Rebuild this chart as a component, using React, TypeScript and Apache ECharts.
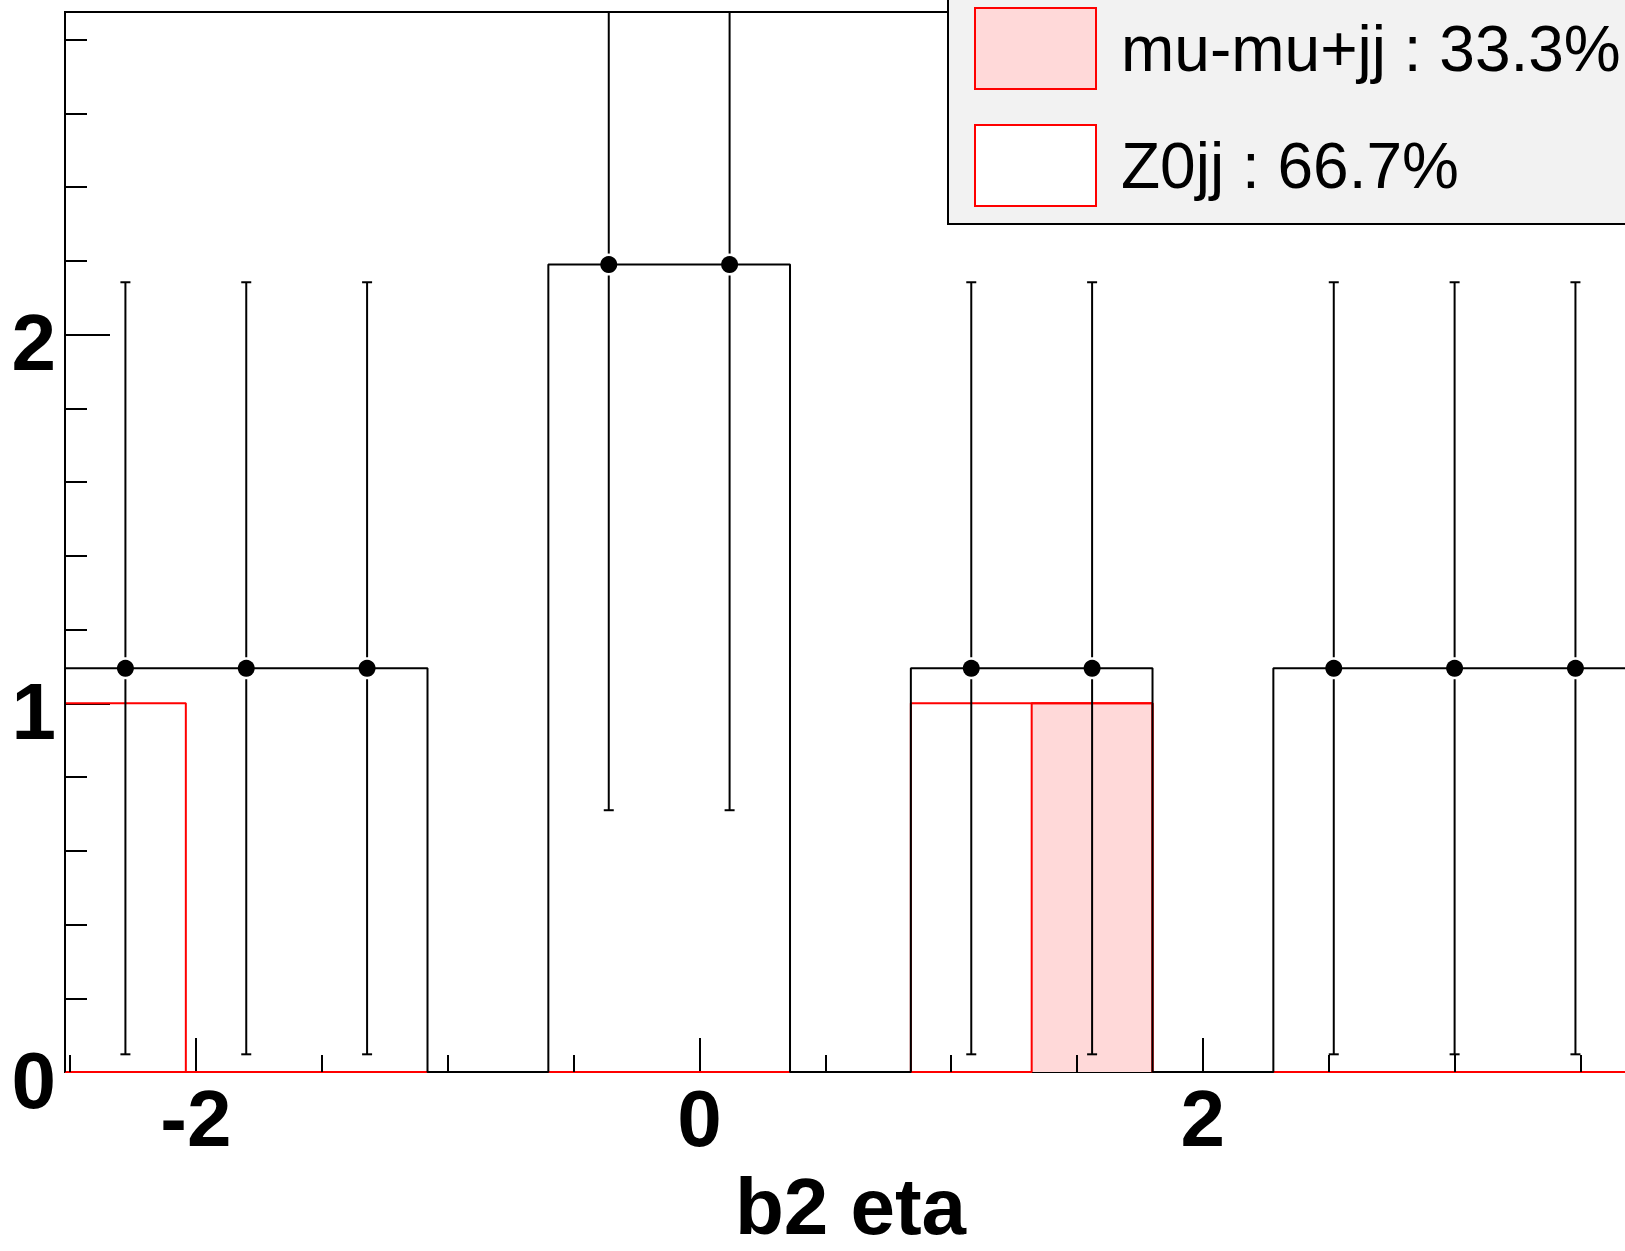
import React, { useEffect, useRef } from "react";
import * as echarts from "echarts";

// ---- data ----
const binEdges = [-2.52, -2.04, -1.56, -1.08, -0.6, -0.12, 0.36, 0.84, 1.32, 1.8, 2.28, 2.76, 3.24, 3.72];
const dataValues = [1.095, 1.095, 1.095, 0, 2.19, 2.19, 0, 1.095, 1.095, 0, 1.095, 1.095, 1.095];
const dataErrors = [1.047, 1.047, 1.047, 0, 1.48, 1.48, 0, 1.047, 1.047, 0, 1.047, 1.047, 1.047];
const z0jjValues = [1, 0, 0, 0, 0, 0, 0, 1, 0, 0, 0, 0, 0];
const mumujjValues = [0, 0, 0, 0, 0, 0, 0, 0, 1, 0, 0, 0, 0];
const seriesNames = ["mu-mu+jj : 33.3%", "Z0jj : 66.7%"];
const xMajorTicks = [-2, 0, 2];
const xMinorTicks = [-2.5, -1.5, -1, -0.5, 0.5, 1, 1.5, 2.5, 3, 3.5];
const yMajorTicks = [0, 1, 2];
const yMinorTicks = [0.2, 0.4, 0.6, 0.8, 1.2, 1.4, 1.6, 1.8, 2.2, 2.4, 2.6, 2.8];
const xTitle = "b2 eta";
const xMin = -2.52;
const xMax = 3.8;
const yMin = 0;
const yMax = 2.875;

const FONT = "'Liberation Sans', Arial, Helvetica, sans-serif";
const PINK = "#ffd9d9";

function stepOutline(values: number[]): number[][] {
  const pts: number[][] = [[binEdges[0], 0]];
  values.forEach((v, i) => {
    pts.push([binEdges[i], v], [binEdges[i + 1], v]);
  });
  pts.push([binEdges[values.length], 0]);
  return pts;
}

export default function App() {
  const ref = useRef<HTMLDivElement>(null);

  useEffect(() => {
    if (!ref.current) return;
    const chart = echarts.init(ref.current, undefined, { renderer: "svg" });

    const stackTotal = z0jjValues.map((v, i) => v + mumujjValues[i]);
    const points = dataValues
      .map((v, i) => [(binEdges[i] + binEdges[i + 1]) / 2, v, dataErrors[i]])
      .filter((p) => p[1] > 0);

    const mainAxisCommon = {
      type: "value" as const,
      splitLine: { show: false },
    };

    const option: any = {
      animation: false,
      backgroundColor: "#ffffff",
      grid: {
        left: 65,
        top: 12,
        right: 44,
        bottom: 179,
        show: true,
        containLabel: false,
        outerBoundsMode: "none",
        borderColor: "#000",
        borderWidth: 2,
        backgroundColor: "transparent",
      },
      legend: {
        orient: "vertical",
        left: 948,
        top: -14,
        padding: [21, 20, 17, 26],
        itemWidth: 121,
        itemHeight: 81,
        itemGap: 34,
        icon: "rect",
        selectedMode: false,
        backgroundColor: "#f2f2f2",
        borderColor: "#000",
        borderWidth: 2,
        textStyle: {
          fontFamily: FONT,
          fontSize: 64,
          color: "#000",
          padding: [0, 0, 0, 20],
        },
        data: [
          { name: seriesNames[0], itemStyle: { color: PINK, borderColor: "#ff0000", borderWidth: 2 } },
          { name: seriesNames[1], itemStyle: { color: "#ffffff", borderColor: "#ff0000", borderWidth: 2 } },
        ],
      },
      xAxis: [
        {
          ...mainAxisCommon,
          min: xMin,
          max: xMax,
          position: "bottom",
          axisLine: { show: true, onZero: false, lineStyle: { color: "#000", width: 2 } },
          axisTick: {
            show: true,
            inside: true,
            length: 34,
            customValues: xMajorTicks,
            lineStyle: { color: "#000", width: 2 },
          },
          axisLabel: {
            show: true,
            customValues: xMajorTicks,
            margin: 6,
            fontFamily: FONT,
            fontWeight: "bold",
            fontSize: 80,
            color: "#000",
          },
          name: xTitle,
          nameLocation: "middle",
          nameGap: 94,
          nameTextStyle: {
            fontFamily: FONT,
            fontWeight: "bold",
            fontSize: 80,
            color: "#000",
            padding: [0, 20, 0, 0],
          },
        },
        {
          ...mainAxisCommon,
          min: xMin,
          max: xMax,
          position: "bottom",
          z: 10,
          axisLine: { show: false, onZero: false },
          axisTick: {
            show: true,
            inside: true,
            length: 17,
            customValues: xMinorTicks,
            lineStyle: { color: "#000", width: 2 },
          },
          axisLabel: { show: false },
        },
      ],
      yAxis: [
        {
          ...mainAxisCommon,
          min: yMin,
          max: yMax,
          position: "left",
          axisLine: { show: true, onZero: false, lineStyle: { color: "#000", width: 2 } },
          axisTick: {
            show: true,
            inside: true,
            length: 45,
            customValues: yMajorTicks,
            lineStyle: { color: "#000", width: 2 },
          },
          axisLabel: {
            show: true,
            customValues: yMajorTicks,
            margin: 9,
            formatter: (v: number) => `{n|${v}}`,
            rich: {
              n: {
                fontFamily: FONT,
                fontWeight: "bold",
                fontSize: 80,
                color: "#000",
                padding: [16, 0, 0, 0],
              },
            },
            fontFamily: FONT,
            fontWeight: "bold",
            fontSize: 80,
            color: "#000",
          },
        },
        {
          ...mainAxisCommon,
          min: yMin,
          max: yMax,
          position: "left",
          z: 10,
          axisLine: { show: false, onZero: false },
          axisTick: {
            show: true,
            inside: true,
            length: 22,
            customValues: yMinorTicks,
            lineStyle: { color: "#000", width: 2 },
          },
          axisLabel: { show: false },
        },
      ],
      series: [
        {
          name: seriesNames[1],
          type: "line",
          xAxisIndex: 0,
          yAxisIndex: 0,
          data: stepOutline(stackTotal),
          showSymbol: false,
          symbol: "none",
          color: "#ff0000",
          lineStyle: { color: "#ff0000", width: 2 },
          z: 2,
        },
        {
          name: seriesNames[0],
          type: "line",
          xAxisIndex: 0,
          yAxisIndex: 0,
          data: stepOutline(mumujjValues),
          showSymbol: false,
          symbol: "none",
          color: PINK,
          lineStyle: { color: "#ff0000", width: 2 },
          areaStyle: { color: PINK, opacity: 1 },
          z: 2,
        },
        {
          name: "data",
          type: "line",
          xAxisIndex: 0,
          yAxisIndex: 0,
          data: stepOutline(dataValues),
          showSymbol: false,
          symbol: "none",
          color: "#000",
          lineStyle: { color: "#000", width: 2 },
          z: 3,
        },
        {
          name: "data errors",
          type: "custom",
          xAxisIndex: 0,
          yAxisIndex: 0,
          data: points,
          z: 4,
          renderItem: (params: any, api: any) => {
            const x = api.value(0);
            const y = api.value(1);
            const e = api.value(2);
            const c = api.coord([x, y]);
            const top = api.coord([x, y + e]);
            const bot = api.coord([x, y - e]);
            const cs = params.coordSys;
            const yTop = Math.max(top[1], cs.y);
            const st = { stroke: "#000", lineWidth: 2 };
            const gap = 11;
            const cap = 5;
            const children: any[] = [
              { type: "line", shape: { x1: c[0], y1: c[1] - gap, x2: c[0], y2: yTop }, style: st },
              { type: "line", shape: { x1: c[0], y1: c[1] + gap, x2: c[0], y2: bot[1] }, style: st },
              { type: "line", shape: { x1: c[0] - cap, y1: bot[1], x2: c[0] + cap, y2: bot[1] }, style: st },
            ];
            if (top[1] >= cs.y) {
              children.push({ type: "line", shape: { x1: c[0] - cap, y1: top[1], x2: c[0] + cap, y2: top[1] }, style: st });
            }
            return { type: "group", children };
          },
        },
        {
          name: "data points",
          type: "scatter",
          xAxisIndex: 0,
          yAxisIndex: 0,
          data: points.map((p) => [p[0], p[1]]),
          symbol: "circle",
          symbolSize: 17,
          itemStyle: { color: "#000", opacity: 1 },
          z: 5,
        },
      ],
    };

    chart.setOption(option);
    return () => chart.dispose();
  }, []);

  return (
    <div
      style={{
        position: "fixed",
        left: 0,
        top: 0,
        width: 1625,
        height: 1251,
        overflow: "hidden",
        background: "#fff",
      }}
    >
      <div ref={ref} style={{ width: 1700, height: 1251 }} />
    </div>
  );
}
